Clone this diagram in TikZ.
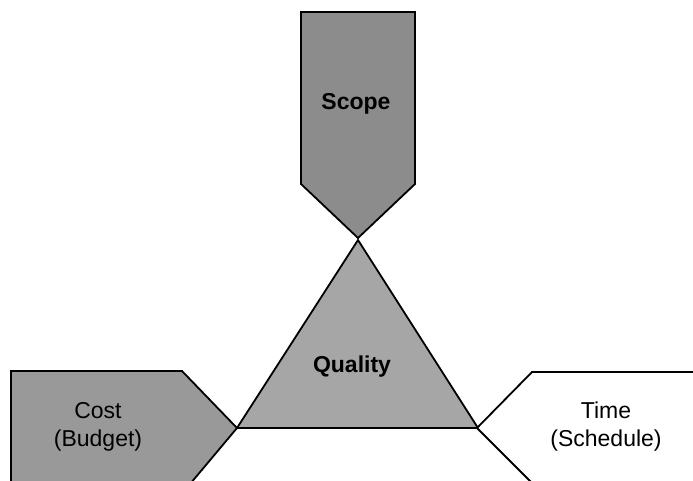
\documentclass[tikz,border=0pt]{standalone}
\usepackage{fontspec}
\setmainfont{Liberation Sans}
\begin{document}
\begin{tikzpicture}[x=1pt,y=-1pt,
  outline/.style={draw=black,line width=1.8pt,line join=miter},
  label/.style={font=\fontsize{23}{28}\selectfont,align=center,text=black},
  boldlabel/.style={label,font=\fontsize{23}{28}\selectfont\bfseries}]
  \useasboundingbox (0,0) rectangle (693,480);
  \clip (0,0) rectangle (693,480);

  % Scope: downward pointing pentagon
  \draw[outline,fill=black!45] (301,12) -- (415,12) -- (415,184) -- (358,238) -- (301,184) -- cycle;
  % Quality triangle
  \draw[outline,fill=black!35] (358,240) -- (478,428) -- (237,428) -- cycle;
  % Cost (Budget): pentagon pointing right
  \draw[outline,fill=black!40] (11,490) -- (11,371) -- (182,371) -- (237,428) -- (185,490);
  % Time (Schedule): open pentagon pointing left
  \draw[outline,fill=white] (700,372) -- (532,372) -- (477,428) -- (539,490);

  \node[boldlabel] (scope) at (356,104) {Scope};
  \node[boldlabel] (quality) at (352,367) {Quality};
  \node[label] (cost) at (98,427) {Cost\\(Budget)};
  \node[label] (time) at (606,427) {Time\\(Schedule)};
\end{tikzpicture}
\end{document}
